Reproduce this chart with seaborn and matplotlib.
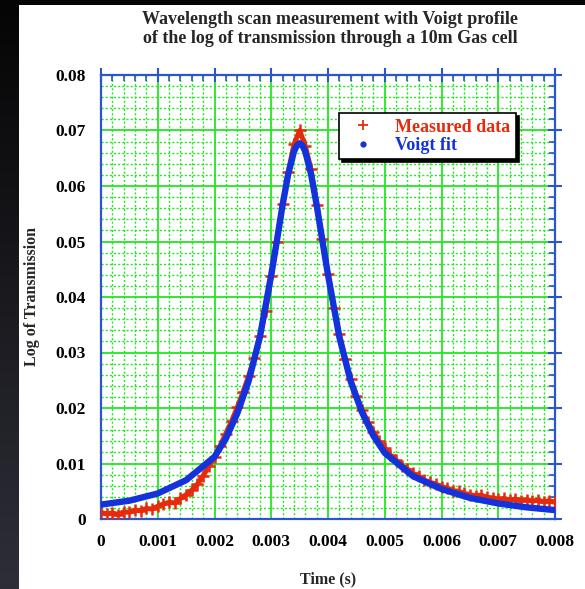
import numpy as np
import pandas as pd
import matplotlib
matplotlib.use("Agg")
import matplotlib.pyplot as plt
from matplotlib.lines import Line2D
from matplotlib.patches import Rectangle
from matplotlib.ticker import MultipleLocator, FixedFormatter, FixedLocator
import seaborn as sns

# ---------------- data ----------------
fit_t = [0.0, 0.0005, 0.001, 0.0015, 0.002, 0.0022, 0.0024, 0.0026, 0.0028, 0.003,
         0.0031, 0.0032, 0.0033, 0.0034, 0.00345, 0.0035, 0.00355, 0.0036, 0.0037, 0.0038,
         0.0039, 0.004, 0.0042, 0.0044, 0.0046, 0.0048, 0.005, 0.0055, 0.006, 0.0065,
         0.007, 0.0075, 0.008]
fit_v = [0.0026, 0.0033, 0.0046, 0.0070, 0.0112, 0.0145, 0.0190, 0.0248, 0.0328, 0.0440,
         0.0502, 0.0566, 0.0622, 0.0662, 0.0673, 0.0677, 0.0673, 0.0662, 0.0622, 0.0566,
         0.0502, 0.0440, 0.0328, 0.0248, 0.0192, 0.0150, 0.0119, 0.0077, 0.0054, 0.0038,
         0.0028, 0.0021, 0.0016]

meas_t = [round(i * 0.0001, 4) for i in range(81)]
meas_v = [0.0012, 0.0009, 0.0011, 0.0008, 0.0013, 0.0012, 0.0016, 0.0015, 0.0019, 0.0018,
          0.0023, 0.0027, 0.0030, 0.0029, 0.0037, 0.0044, 0.0052, 0.0063, 0.0078, 0.0095,
          0.0112, 0.0132, 0.0154, 0.0176, 0.0201, 0.0228, 0.0257, 0.0290, 0.0330, 0.0375,
          0.0437, 0.0500, 0.0568, 0.0625, 0.0675, 0.0700, 0.0672, 0.0630, 0.0566, 0.0505,
          0.0441, 0.0380, 0.0333, 0.0288, 0.0252, 0.0222, 0.0197, 0.0175, 0.0157, 0.0140,
          0.0128, 0.0115, 0.0106, 0.0096, 0.0090, 0.0082, 0.0077, 0.0070, 0.0066, 0.0063,
          0.0058, 0.0056, 0.0051, 0.0050, 0.0046, 0.0044, 0.0042, 0.0043, 0.0039, 0.0038,
          0.0036, 0.0037, 0.0034, 0.0036, 0.0033, 0.0035, 0.0032, 0.0034, 0.0031, 0.0033,
          0.0030]

x_ticks = [0, 0.001, 0.002, 0.003, 0.004, 0.005, 0.006, 0.007, 0.008]
x_labels = ["0", "0.001", "0.002", "0.003", "0.004", "0.005", "0.006", "0.007", "0.008"]
y_ticks = [0, 0.01, 0.02, 0.03, 0.04, 0.05, 0.06, 0.07, 0.08]
y_labels = ["0", "0.01", "0.02", "0.03", "0.04", "0.05", "0.06", "0.07", "0.08"]

title = "Wavelength scan measurement with Voigt profile\nof the log of transmission through a 10m Gas cell"
x_label = "Time (s)"
y_label = "Log of Transmission"
series_names = ["Measured data", "Voigt fit"]

RED = "#e62a0c"
BLUE = "#1432dc"
GREEN = "#22e622"
AXBLUE = "#2a55cc"

# ---------------- figure ----------------
sns.set_style("white")
plt.rcParams["font.family"] = ["Liberation Serif", "DejaVu Serif"]
plt.rcParams["font.weight"] = "bold"

fig = plt.figure(figsize=(5.85, 5.89), dpi=100)
fig.patch.set_facecolor("#050505")
fig.patches.append(Rectangle((19 / 585, 0), 1 - 19 / 585, (589 - 5) / 589,
                             transform=fig.transFigure, facecolor="white",
                             edgecolor="none", zorder=-10))
# dark gradient strip on the left
gax = fig.add_axes([0, 0, 19 / 585, 1], zorder=-5)
grad = np.linspace(0, 1, 256).reshape(-1, 1)
gax.imshow(grad, aspect="auto", cmap=matplotlib.colors.LinearSegmentedColormap.from_list(
    "g", ["#2e2e38", "#050505"]), origin="lower", extent=[0, 1, 0, 1])
gax.set_axis_off()

ax = fig.add_axes([101 / 585, 70 / 589, 454 / 585, 444 / 589])
ax.set_facecolor("white")

df_meas = pd.DataFrame({"t": meas_t, "v": meas_v})
df_fit = pd.DataFrame({"t": fit_t, "v": fit_v})

sns.lineplot(data=df_meas, x="t", y="v", ax=ax, color=RED, lw=3.6,
             marker="+", markersize=9, mew=1.8, mec=RED, zorder=3)
sns.lineplot(data=df_fit, x="t", y="v", ax=ax, color=BLUE, lw=4.6, zorder=4,
             solid_capstyle="round", solid_joinstyle="round")

ax.set_xlim(0, 0.008)
ax.set_ylim(0, 0.08)
ax.xaxis.set_major_locator(FixedLocator(x_ticks))
ax.xaxis.set_major_formatter(FixedFormatter(x_labels))
ax.yaxis.set_major_locator(FixedLocator(y_ticks))
ax.yaxis.set_major_formatter(FixedFormatter(y_labels))
ax.xaxis.set_minor_locator(MultipleLocator(0.0002))
ax.yaxis.set_minor_locator(MultipleLocator(0.002))

ax.grid(which="major", color=GREEN, lw=1.3, ls="-", zorder=0)
ax.grid(which="minor", color=GREEN, lw=1.0, ls=(0, (1.5, 1.5)), zorder=0)
ax.set_axisbelow(True)

for s in ax.spines.values():
    s.set_color(AXBLUE)
    s.set_linewidth(1.6)
    s.set_visible(True)

ax.tick_params(which="major", direction="inout", length=10, width=1.5, color=AXBLUE,
               top=True, right=True, labelsize=12.5, pad=6)
ax.tick_params(which="minor", direction="in", length=4.5, width=1.2, color=AXBLUE,
               top=True, right=True)
for lab in ax.get_xticklabels() + ax.get_yticklabels():
    lab.set_fontweight("bold")
    lab.set_color("black")

ax.set_xlabel(x_label, fontsize=11.5, fontweight="bold", labelpad=15)
ax.set_ylabel(y_label, fontsize=11.5, fontweight="bold", labelpad=11)

fig.text(330 / 585, 1 - 29 / 589, title, ha="center", va="center", fontsize=13,
         fontweight="bold", linespacing=1.12)

handles = [Line2D([], [], ls="none", marker="+", color=RED, markersize=7, mew=1.3),
           Line2D([], [], ls="none", marker=".", color=BLUE, markersize=7)]
leg = ax.legend(handles, series_names, loc="upper right", bbox_to_anchor=(0.914, 0.914),
                borderaxespad=0, frameon=True, fancybox=False,
                shadow={"color": "black", "alpha": 1.0}, prop={"size": 13, "weight": "bold"},
                handlelength=2.0, handletextpad=0.8, borderpad=0.3, labelspacing=0.08)
leg.get_frame().set_edgecolor("black")
leg.get_frame().set_linewidth(1.2)
for txt, c in zip(leg.get_texts(), [RED, BLUE]):
    txt.set_color(c)
leg.set_zorder(10)

fig.savefig("out.png", dpi=100, facecolor=fig.get_facecolor())
